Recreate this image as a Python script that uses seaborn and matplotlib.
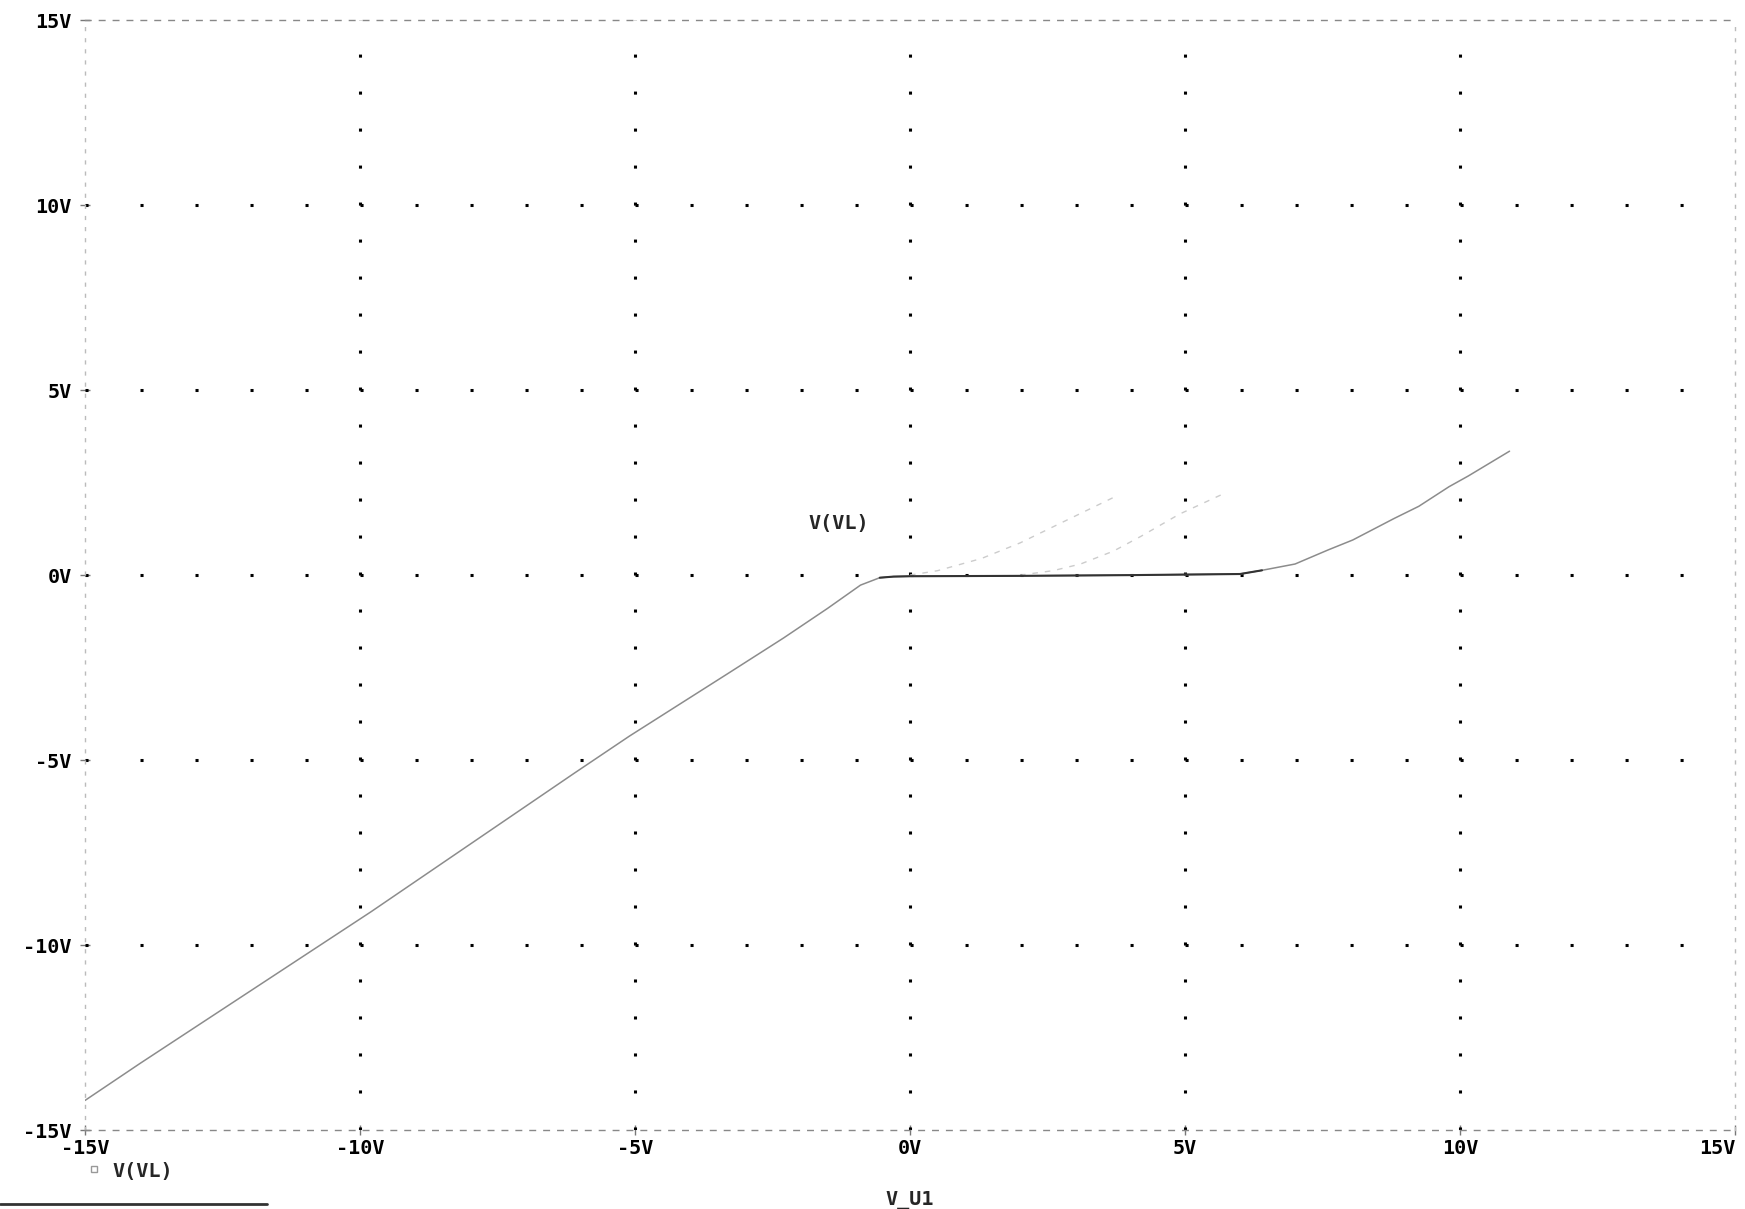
import numpy as np
import pandas as pd
import matplotlib
matplotlib.use("Agg")
import matplotlib.pyplot as plt
import seaborn as sns
from matplotlib.lines import Line2D

# main trace V(VL) against the swept source V_U1
vin_main = [-15, -14, -9.8, -6.1, -5.1, -3.3, -2.3, -1.5, -0.9, -0.55, -0.3, 0, 2, 4, 6,
            6.4, 7.0, 7.6, 8.05, 8.8, 9.25, 9.8, 10.15, 10.9]
vl_main = [-14.2, -13.2, -9.1, -5.35, -4.35, -2.65, -1.7, -0.9, -0.27, -0.07, -0.04, -0.03, -0.02, 0.0, 0.03,
           0.13, 0.3, 0.68, 0.95, 1.53, 1.86, 2.39, 2.68, 3.35]

# faint traces that show through on the printout
ghost_a_x = [0, 0.5, 1.3, 2.0, 2.8, 3.7]
ghost_a_y = [0.0, 0.12, 0.45, 0.87, 1.45, 2.1]
ghost_b_x = [2.0, 2.6, 3.1, 3.7, 4.2, 4.9, 5.7]
ghost_b_y = [0.0, 0.12, 0.3, 0.65, 1.05, 1.65, 2.2]

tick_vals = [-15, -10, -5, 0, 5, 10, 15]
tick_labels = ["-15V", "-10V", "-5V", "0V", "5V", "10V", "15V"]

sns.set_theme(style="white")
plt.rcParams["font.family"] = ["DejaVu Sans Mono", "DejaVu Sans"]
plt.rcParams["font.weight"] = "bold"
plt.rcParams["lines.scale_dashes"] = False

FW, FH = 17.45, 12.09
FS = 14.5
fig = plt.figure(figsize=(FW, FH), dpi=100)
pos = [0.0487, 0.0653, 0.9456, 0.918]
ax = fig.add_axes(pos)
ax.set_xlim(-15, 15)
ax.set_ylim(-15, 15)

# dotted PSpice grid: one dot per volt along the inner 5V lines
per_x = pos[2] * FW * 72 / 30
per_y = pos[3] * FH * 72 / 30
dot = 2.2
for v in tick_vals[1:-1]:
    ax.axvline(v, color="black", linewidth=2.2, linestyle=(0, (dot, per_y - dot)), zorder=1)
    ax.axhline(v, color="black", linewidth=2.2, linestyle=(0, (dot, per_x - dot)), zorder=1)

df_a = pd.DataFrame({"x": ghost_a_x, "y": ghost_a_y})
df_b = pd.DataFrame({"x": ghost_b_x, "y": ghost_b_y})
df_main = pd.DataFrame({"x": vin_main, "y": vl_main})
for d in (df_a, df_b):
    sns.lineplot(data=d, x="x", y="y", ax=ax, color="#cccccc", linewidth=1.0,
                 linestyle=(0, (4, 5)), sort=True, zorder=3)
sns.lineplot(data=df_main, x="x", y="y", ax=ax, color="#8c8c8c", linewidth=1.1, sort=True, zorder=4)
# the clamped stretch printed darker
flat = df_main[(df_main["x"] >= -0.6) & (df_main["x"] <= 6.4)]
sns.lineplot(data=flat, x="x", y="y", ax=ax, color="#333333", linewidth=1.5, sort=True, zorder=5)

ax.text(-1.3, 1.4, "V(VL)", ha="center", va="center", fontsize=FS, fontweight="bold")

ax.set_xticks(tick_vals)
ax.set_xticklabels(tick_labels)
ax.set_yticks(tick_vals)
ax.set_yticklabels(tick_labels)
ax.tick_params(axis="both", direction="inout", length=7, width=1, color="#777777",
               labelsize=FS, labelcolor="black")
ax.tick_params(axis="y", pad=6, left=True)
ax.tick_params(axis="x", pad=3, bottom=True)
ax.get_xticklabels()[-1].set_horizontalalignment("right")
for t in ax.get_xticklabels() + ax.get_yticklabels():
    t.set_fontweight("bold")

ax.set_xlabel("V_U1", fontsize=FS, fontweight="bold", labelpad=24)
ax.set_ylabel("")

for s in ["top", "bottom"]:
    ax.spines[s].set_visible(True)
    ax.spines[s].set_linestyle((0, (4, 6)))
    ax.spines[s].set_color("#888888")
    ax.spines[s].set_linewidth(1.0)
for s in ["left", "right"]:
    ax.spines[s].set_visible(True)
    ax.spines[s].set_linestyle((0, (2, 6)))
    ax.spines[s].set_color("#bbbbbb")
    ax.spines[s].set_linewidth(1.0)

handle = Line2D([], [], marker="s", markersize=5, markerfacecolor="none",
                markeredgecolor="#999999", linestyle="none")
fig.legend(handles=[handle], labels=["V(VL)"], loc="center left",
           bbox_to_anchor=(0.040, 1 - 1171 / 1209), frameon=False,
           handlelength=0.6, handletextpad=0.6, prop={"size": FS, "weight": "bold"})

# edge of the scanned page at the lower left
fig.add_artist(Line2D([0, 0.153], [0.0045, 0.0045], transform=fig.transFigure,
                      color="#333333", linewidth=2))

fig.savefig("out.png", dpi=100)
